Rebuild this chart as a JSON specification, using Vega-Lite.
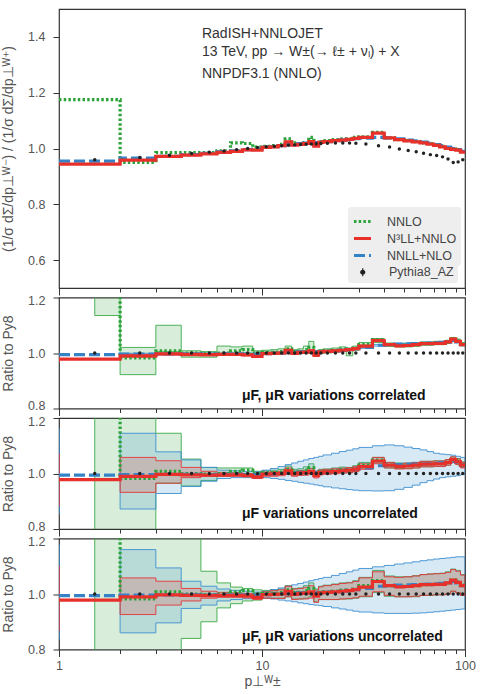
{
"$schema":"https://vega.github.io/schema/vega-lite/v6.json",
"background":"white",
"padding":{"left":1,"top":8,"right":0,"bottom":0},
"spacing":9.5,
"bounds":"flush",
"resolve":{"scale":{"color":"independent","strokeDash":"independent","fill":"independent"},"legend":{"color":"independent","strokeDash":"independent","fill":"independent"}},
"config":{
 "font":"Liberation Sans",
 "view":{"stroke":"#333333","strokeWidth":1.2},
 "axis":{"domain":false,"grid":false,"tickColor":"#333333","tickWidth":1,"labelColor":"#555555","labelFont":"Liberation Sans","labelFontSize":12.5,"titleColor":"#555555","titleFont":"Liberation Sans","titleFontSize":14,"titleFontWeight":"normal","labelFlush":false,"labelOverlap":false}
},
"datasets":{
"main":[
{"x":1,"nnlo":1.175,"n3ll":0.944,"nnll":0.955,"xc":1.5,"py":0.96,"rn":1.22,"rr":0.978,"rb":0.994},
{"x":2,"nnlo":0.95,"n3ll":0.958,"nnll":0.966,"xc":2.5,"py":0.968,"rn":0.982,"rr":0.99,"rb":0.996},
{"x":3,"nnlo":0.985,"n3ll":0.972,"nnll":0.972,"xc":3.5,"py":0.976,"rn":1.008,"rr":0.997,"rb":0.997},
{"x":4,"nnlo":0.985,"n3ll":0.976,"nnll":0.978,"xc":4.5,"py":0.982,"rn":1.0,"rr":0.995,"rb":0.997},
{"x":5,"nnlo":0.985,"n3ll":0.981,"nnll":0.983,"xc":5.5,"py":0.987,"rn":0.998,"rr":0.994,"rb":0.996},
{"x":6,"nnlo":0.992,"n3ll":0.986,"nnll":0.988,"xc":6.5,"py":0.991,"rn":1.0,"rr":0.995,"rb":0.997},
{"x":7,"nnlo":1.02,"n3ll":0.99,"nnll":0.992,"xc":7.5,"py":0.996,"rn":1.008,"rr":0.995,"rb":0.997},
{"x":8,"nnlo":1.018,"n3ll":0.995,"nnll":0.996,"xc":8.5,"py":1.0,"rn":1.012,"rr":0.993,"rb":0.996},
{"x":9,"nnlo":1.005,"n3ll":0.994,"nnll":0.998,"xc":9.5,"py":1.004,"rn":1.0,"rr":0.988,"rb":0.995},
{"x":10,"nnlo":1.008,"n3ll":1.004,"nnll":1.004,"xc":10.5,"py":1.006,"rn":1.002,"rr":0.998,"rb":0.998},
{"x":11,"nnlo":1.01,"n3ll":1.006,"nnll":1.007,"xc":11.5,"py":1.008,"rn":1.003,"rr":0.999,"rb":0.999},
{"x":12,"nnlo":1.015,"n3ll":1.01,"nnll":1.01,"xc":12.5,"py":1.01,"rn":1.005,"rr":1.0,"rb":1.0},
{"x":13,"nnlo":1.035,"n3ll":1.024,"nnll":1.014,"xc":13.5,"py":1.012,"rn":1.015,"rr":1.01,"rb":1.002},
{"x":14,"nnlo":1.02,"n3ll":1.012,"nnll":1.016,"xc":14.5,"py":1.013,"rn":1.005,"rr":0.999,"rb":1.003},
{"x":15,"nnlo":1.018,"n3ll":1.015,"nnll":1.018,"xc":15.5,"py":1.014,"rn":1.006,"rr":1.002,"rb":1.004},
{"x":16,"nnlo":1.02,"n3ll":1.018,"nnll":1.019,"xc":16.5,"py":1.015,"rn":1.012,"rr":1.003,"rb":1.004},
{"x":17,"nnlo":1.04,"n3ll":1.025,"nnll":1.02,"xc":17.5,"py":1.016,"rn":1.02,"rr":1.008,"rb":1.004},
{"x":18,"nnlo":1.015,"n3ll":1.008,"nnll":1.021,"xc":18.5,"py":1.017,"rn":0.998,"rr":0.992,"rb":1.004},
{"x":19,"nnlo":1.025,"n3ll":1.022,"nnll":1.022,"xc":19.5,"py":1.018,"rn":1.006,"rr":1.004,"rb":1.004},
{"x":20,"nnlo":1.028,"n3ll":1.025,"nnll":1.025,"xc":21,"py":1.019,"rn":1.008,"rr":1.006,"rb":1.006},
{"x":22,"nnlo":1.032,"n3ll":1.028,"nnll":1.028,"xc":23,"py":1.02,"rn":1.01,"rr":1.008,"rb":1.008},
{"x":24,"nnlo":1.035,"n3ll":1.03,"nnll":1.03,"xc":25,"py":1.02,"rn":1.014,"rr":1.01,"rb":1.01},
{"x":26,"nnlo":1.035,"n3ll":1.033,"nnll":1.033,"xc":27,"py":1.02,"rn":1.012,"rr":1.012,"rb":1.013},
{"x":28,"nnlo":1.04,"n3ll":1.036,"nnll":1.035,"xc":29,"py":1.019,"rn":1.018,"rr":1.016,"rb":1.016},
{"x":30,"nnlo":1.042,"n3ll":1.04,"nnll":1.037,"xc":32.5,"py":1.016,"rn":1.03,"rr":1.025,"rb":1.02},
{"x":35,"nnlo":1.058,"n3ll":1.055,"nnll":1.04,"xc":37.5,"py":1.01,"rn":1.048,"rr":1.045,"rb":1.028},
{"x":40,"nnlo":1.038,"n3ll":1.038,"nnll":1.038,"xc":42.5,"py":1.005,"rn":1.03,"rr":1.03,"rb":1.03},
{"x":45,"nnlo":1.032,"n3ll":1.032,"nnll":1.035,"xc":47.5,"py":0.998,"rn":1.028,"rr":1.026,"rb":1.032},
{"x":50,"nnlo":1.028,"n3ll":1.027,"nnll":1.03,"xc":52.5,"py":0.993,"rn":1.028,"rr":1.027,"rb":1.033},
{"x":55,"nnlo":1.025,"n3ll":1.024,"nnll":1.027,"xc":57.5,"py":0.988,"rn":1.03,"rr":1.03,"rb":1.034},
{"x":60,"nnlo":1.02,"n3ll":1.02,"nnll":1.023,"xc":62.5,"py":0.983,"rn":1.034,"rr":1.034,"rb":1.035},
{"x":65,"nnlo":1.018,"n3ll":1.016,"nnll":1.019,"xc":67.5,"py":0.978,"rn":1.034,"rr":1.034,"rb":1.036},
{"x":70,"nnlo":1.012,"n3ll":1.011,"nnll":1.014,"xc":72.5,"py":0.975,"rn":1.036,"rr":1.035,"rb":1.037},
{"x":75,"nnlo":1.008,"n3ll":1.006,"nnll":1.01,"xc":77.5,"py":0.97,"rn":1.036,"rr":1.035,"rb":1.038},
{"x":80,"nnlo":1.002,"n3ll":1.0,"nnll":1.005,"xc":82.5,"py":0.962,"rn":1.04,"rr":1.04,"rb":1.04},
{"x":85,"nnlo":0.998,"n3ll":0.997,"nnll":1.0,"xc":87.5,"py":0.95,"rn":1.05,"rr":1.05,"rb":1.045},
{"x":90,"nnlo":0.995,"n3ll":0.994,"nnll":0.996,"xc":92.5,"py":0.952,"rn":1.044,"rr":1.042,"rb":1.04},
{"x":95,"nnlo":0.99,"n3ll":0.987,"nnll":0.99,"xc":97.5,"py":0.96,"rn":1.032,"rr":1.03,"rb":1.03},
{"x":100,"nnlo":0.99,"n3ll":0.987,"nnll":0.99,"rn":1.032,"rr":1.03,"rb":1.03}
],
"bands":[
{"x":1,"r2l":0.965,"r2h":0.986,"b2l":0.988,"b2h":0.998,"r3l":0.884,"r3h":1.07,"b3l":0.852,"b3h":1.162,"r4l":0.868,"r4h":1.1,"b4l":0.836,"b4h":1.178},
{"x":1.5,"g2l":1.135,"g2h":1.25,"g3l":0.78,"g3h":1.22,"g4l":0.78,"g4h":1.22},
{"x":2,"g2l":0.922,"g2h":1.02,"r2l":0.985,"r2h":0.995,"b2l":0.992,"b2h":0.999,"g3l":0.78,"g3h":1.22,"r3l":0.932,"r3h":1.058,"b3l":0.872,"b3h":1.145,"g4l":0.78,"g4h":1.22,"r4l":0.926,"r4h":1.058,"b4l":0.86,"b4h":1.16},
{"x":3,"g2l":1.005,"g2h":1.1,"r2l":0.993,"r2h":1.0,"b2l":0.994,"b2h":1.0,"g3l":0.965,"g3h":1.145,"r3l":0.965,"r3h":1.046,"b3l":0.928,"b3h":1.078,"g4l":0.78,"g4h":1.22,"r4l":0.96,"r4h":1.046,"b4l":0.896,"b4h":1.094},
{"x":4,"g2l":0.985,"g2h":1.008,"r2l":0.99,"r2h":0.998,"b2l":0.994,"b2h":0.999,"g3l":0.955,"g3h":1.052,"r3l":0.985,"r3h":1.022,"b3l":0.953,"b3h":1.049,"g4l":0.84,"g4h":1.22,"r4l":0.975,"r4h":1.02,"b4l":0.948,"b4h":1.046},
{"x":5,"g2l":0.985,"g2h":1.005,"r2l":0.99,"r2h":0.997,"b2l":0.993,"b2h":0.999,"g3l":0.975,"g3h":1.022,"r3l":0.99,"r3h":1.008,"b3l":0.972,"b3h":1.022,"g4l":0.9,"g4h":1.082,"r4l":0.985,"r4h":1.01,"b4l":0.96,"b4h":1.028},
{"x":6,"g2l":0.995,"g2h":1.025,"r2l":0.991,"r2h":0.998,"b2l":0.994,"b2h":1.0,"g3l":0.99,"g3h":1.02,"r3l":0.99,"r3h":1.004,"b3l":0.982,"b3h":1.012,"g4l":0.95,"g4h":1.04,"r4l":0.988,"r4h":1.006,"b4l":0.975,"b4h":1.018},
{"x":7,"g2l":0.997,"g2h":1.022,"r2l":0.991,"r2h":0.998,"b2l":0.994,"b2h":1.0,"g3l":0.995,"g3h":1.02,"r3l":0.99,"r3h":1.003,"b3l":0.985,"b3h":1.01,"g4l":0.965,"g4h":1.025,"r4l":0.988,"r4h":1.004,"b4l":0.98,"b4h":1.013},
{"x":8,"g2l":1.0,"g2h":1.025,"r2l":0.99,"r2h":0.996,"b2l":0.993,"b2h":0.999,"g3l":0.995,"g3h":1.02,"r3l":0.988,"r3h":1.0,"b3l":0.985,"b3h":1.007,"g4l":0.975,"g4h":1.02,"r4l":0.986,"r4h":1.002,"b4l":0.983,"b4h":1.01},
{"x":9,"g2l":0.99,"g2h":1.008,"r2l":0.984,"r2h":0.992,"b2l":0.992,"b2h":0.998,"g3l":0.99,"g3h":1.008,"r3l":0.982,"r3h":0.995,"b3l":0.984,"b3h":1.006,"g4l":0.978,"g4h":1.015,"r4l":0.98,"r4h":0.996,"b4l":0.985,"b4h":1.007},
{"x":10,"g2l":0.995,"g2h":1.01,"r2l":0.995,"r2h":1.002,"b2l":0.995,"b2h":1.001,"g3l":0.994,"g3h":1.01,"r3l":0.99,"r3h":1.005,"b3l":0.985,"b3h":1.012,"g4l":0.985,"g4h":1.013,"r4l":0.985,"r4h":1.008,"b4l":0.985,"b4h":1.01},
{"x":11,"g2l":0.996,"g2h":1.012,"r2l":0.996,"r2h":1.002,"b2l":0.996,"b2h":1.002,"g3l":0.995,"g3h":1.012,"r3l":0.99,"r3h":1.007,"b3l":0.982,"b3h":1.018,"g4l":0.985,"g4h":1.015,"r4l":0.984,"r4h":1.012,"b4l":0.982,"b4h":1.016},
{"x":12,"g2l":0.998,"g2h":1.015,"r2l":0.997,"r2h":1.004,"b2l":0.997,"b2h":1.003,"g3l":0.997,"g3h":1.015,"r3l":0.992,"r3h":1.008,"b3l":0.979,"b3h":1.025,"g4l":0.985,"g4h":1.018,"r4l":0.984,"r4h":1.015,"b4l":0.978,"b4h":1.022},
{"x":13,"g2l":1.002,"g2h":1.025,"r2l":1.006,"r2h":1.014,"b2l":0.999,"b2h":1.005,"g3l":1.003,"g3h":1.027,"r3l":1.0,"r3h":1.02,"b3l":0.975,"b3h":1.032,"g4l":0.99,"g4h":1.03,"r4l":0.99,"r4h":1.028,"b4l":0.975,"b4h":1.028},
{"x":14,"g2l":0.995,"g2h":1.012,"r2l":0.996,"r2h":1.003,"b2l":1.0,"b2h":1.006,"g3l":0.995,"g3h":1.015,"r3l":0.99,"r3h":1.008,"b3l":0.972,"b3h":1.038,"g4l":0.982,"g4h":1.02,"r4l":0.98,"r4h":1.018,"b4l":0.972,"b4h":1.033},
{"x":15,"g2l":0.998,"g2h":1.015,"r2l":0.999,"r2h":1.005,"b2l":1.001,"b2h":1.007,"g3l":0.997,"g3h":1.017,"r3l":0.993,"r3h":1.011,"b3l":0.968,"b3h":1.044,"g4l":0.982,"g4h":1.022,"r4l":0.982,"r4h":1.02,"b4l":0.968,"b4h":1.038},
{"x":16,"g2l":1.002,"g2h":1.025,"r2l":1.0,"r2h":1.006,"b2l":1.001,"b2h":1.007,"g3l":1.002,"g3h":1.024,"r3l":0.994,"r3h":1.012,"b3l":0.965,"b3h":1.049,"g4l":0.985,"g4h":1.03,"r4l":0.982,"r4h":1.024,"b4l":0.965,"b4h":1.043},
{"x":17,"g2l":1.005,"g2h":1.042,"r2l":1.004,"r2h":1.012,"b2l":1.001,"b2h":1.007,"g3l":1.008,"g3h":1.035,"r3l":0.998,"r3h":1.018,"b3l":0.962,"b3h":1.054,"g4l":0.99,"g4h":1.04,"r4l":0.985,"r4h":1.03,"b4l":0.962,"b4h":1.048},
{"x":18,"g2l":0.988,"g2h":1.008,"r2l":0.988,"r2h":0.996,"b2l":1.001,"b2h":1.007,"g3l":0.99,"g3h":1.008,"r3l":0.984,"r3h":1.0,"b3l":0.959,"b3h":1.058,"g4l":0.972,"g4h":1.018,"r4l":0.97,"r4h":1.014,"b4l":0.96,"b4h":1.052},
{"x":19,"g2l":0.998,"g2h":1.012,"r2l":1.001,"r2h":1.007,"b2l":1.001,"b2h":1.007,"g3l":0.997,"g3h":1.015,"r3l":0.995,"r3h":1.013,"b3l":0.956,"b3h":1.062,"g4l":0.98,"g4h":1.028,"r4l":0.98,"r4h":1.026,"b4l":0.958,"b4h":1.056},
{"x":20,"g2l":1.0,"g2h":1.015,"r2l":1.003,"r2h":1.009,"b2l":1.003,"b2h":1.009,"g3l":1.0,"g3h":1.016,"r3l":0.997,"r3h":1.015,"b3l":0.952,"b3h":1.067,"g4l":0.98,"g4h":1.032,"r4l":0.98,"r4h":1.03,"b4l":0.955,"b4h":1.06},
{"x":22,"g2l":1.003,"g2h":1.018,"r2l":1.005,"r2h":1.011,"b2l":1.005,"b2h":1.011,"g3l":1.002,"g3h":1.02,"r3l":0.999,"r3h":1.017,"b3l":0.948,"b3h":1.073,"g4l":0.98,"g4h":1.036,"r4l":0.98,"r4h":1.034,"b4l":0.95,"b4h":1.067},
{"x":24,"g2l":1.006,"g2h":1.022,"r2l":1.007,"r2h":1.013,"b2l":1.007,"b2h":1.013,"g3l":1.005,"g3h":1.023,"r3l":1.001,"r3h":1.019,"b3l":0.945,"b3h":1.079,"g4l":0.982,"g4h":1.04,"r4l":0.982,"r4h":1.038,"b4l":0.946,"b4h":1.074},
{"x":26,"g2l":0.99,"g2h":1.018,"r2l":1.009,"r2h":1.015,"b2l":1.01,"b2h":1.016,"g3l":1.003,"g3h":1.022,"r3l":1.003,"r3h":1.021,"b3l":0.942,"b3h":1.084,"g4l":0.982,"g4h":1.042,"r4l":0.984,"r4h":1.04,"b4l":0.942,"b4h":1.08},
{"x":28,"g2l":1.01,"g2h":1.025,"r2l":1.013,"r2h":1.019,"b2l":1.013,"b2h":1.019,"g3l":1.008,"g3h":1.028,"r3l":1.007,"r3h":1.025,"b3l":0.94,"b3h":1.089,"g4l":0.985,"g4h":1.048,"r4l":0.986,"r4h":1.045,"b4l":0.938,"b4h":1.086},
{"x":30,"g2l":1.022,"g2h":1.038,"r2l":1.022,"r2h":1.028,"b2l":1.017,"b2h":1.023,"g3l":1.02,"g3h":1.04,"r3l":1.015,"r3h":1.035,"b3l":0.938,"b3h":1.094,"g4l":0.99,"g4h":1.06,"r4l":0.992,"r4h":1.058,"b4l":0.935,"b4h":1.092},
{"x":35,"g2l":1.038,"g2h":1.052,"r2l":1.041,"r2h":1.049,"b2l":1.025,"b2h":1.031,"g3l":1.038,"g3h":1.058,"r3l":1.035,"r3h":1.058,"b3l":0.937,"b3h":1.1,"g4l":1.005,"g4h":1.085,"r4l":1.008,"r4h":1.08,"b4l":0.932,"b4h":1.098},
{"x":40,"g2l":1.024,"g2h":1.036,"r2l":1.027,"r2h":1.033,"b2l":1.027,"b2h":1.033,"g3l":1.02,"g3h":1.04,"r3l":1.02,"r3h":1.04,"b3l":0.938,"b3h":1.103,"g4l":0.992,"g4h":1.065,"r4l":0.995,"r4h":1.062,"b4l":0.93,"b4h":1.103},
{"x":45,"g2l":1.022,"g2h":1.034,"r2l":1.023,"r2h":1.029,"b2l":1.029,"b2h":1.035,"g3l":1.018,"g3h":1.038,"r3l":1.016,"r3h":1.036,"b3l":0.943,"b3h":1.1,"g4l":0.99,"g4h":1.062,"r4l":0.99,"r4h":1.06,"b4l":0.93,"b4h":1.108},
{"x":50,"g2l":1.022,"g2h":1.034,"r2l":1.024,"r2h":1.03,"b2l":1.03,"b2h":1.036,"g3l":1.018,"g3h":1.038,"r3l":1.017,"r3h":1.037,"b3l":0.95,"b3h":1.095,"g4l":0.99,"g4h":1.062,"r4l":0.99,"r4h":1.062,"b4l":0.93,"b4h":1.112},
{"x":55,"g2l":1.024,"g2h":1.036,"r2l":1.027,"r2h":1.033,"b2l":1.031,"b2h":1.037,"g3l":1.02,"g3h":1.04,"r3l":1.02,"r3h":1.04,"b3l":0.958,"b3h":1.09,"g4l":0.99,"g4h":1.066,"r4l":0.992,"r4h":1.065,"b4l":0.931,"b4h":1.116},
{"x":60,"g2l":1.028,"g2h":1.04,"r2l":1.031,"r2h":1.037,"b2l":1.032,"b2h":1.038,"g3l":1.024,"g3h":1.044,"r3l":1.024,"r3h":1.044,"b3l":0.967,"b3h":1.085,"g4l":0.995,"g4h":1.07,"r4l":0.995,"r4h":1.07,"b4l":0.932,"b4h":1.12},
{"x":65,"g2l":1.028,"g2h":1.04,"r2l":1.031,"r2h":1.037,"b2l":1.033,"b2h":1.039,"g3l":1.024,"g3h":1.044,"r3l":1.024,"r3h":1.044,"b3l":0.974,"b3h":1.079,"g4l":0.995,"g4h":1.072,"r4l":0.996,"r4h":1.072,"b4l":0.934,"b4h":1.123},
{"x":70,"g2l":1.03,"g2h":1.042,"r2l":1.032,"r2h":1.038,"b2l":1.034,"b2h":1.04,"g3l":1.026,"g3h":1.046,"r3l":1.025,"r3h":1.045,"b3l":0.98,"b3h":1.073,"g4l":0.997,"g4h":1.074,"r4l":0.997,"r4h":1.073,"b4l":0.936,"b4h":1.126},
{"x":75,"g2l":1.03,"g2h":1.042,"r2l":1.032,"r2h":1.038,"b2l":1.035,"b2h":1.041,"g3l":1.026,"g3h":1.046,"r3l":1.025,"r3h":1.045,"b3l":0.985,"b3h":1.07,"g4l":0.997,"g4h":1.075,"r4l":0.997,"r4h":1.074,"b4l":0.938,"b4h":1.128},
{"x":80,"g2l":1.034,"g2h":1.046,"r2l":1.037,"r2h":1.043,"b2l":1.037,"b2h":1.043,"g3l":1.03,"g3h":1.05,"r3l":1.03,"r3h":1.05,"b3l":0.988,"b3h":1.068,"g4l":1.0,"g4h":1.08,"r4l":1.0,"r4h":1.078,"b4l":0.94,"b4h":1.13},
{"x":85,"g2l":1.044,"g2h":1.056,"r2l":1.047,"r2h":1.053,"b2l":1.042,"b2h":1.048,"g3l":1.04,"g3h":1.06,"r3l":1.04,"r3h":1.06,"b3l":0.99,"b3h":1.066,"g4l":1.01,"g4h":1.09,"r4l":1.01,"r4h":1.088,"b4l":0.942,"b4h":1.132},
{"x":90,"g2l":1.038,"g2h":1.05,"r2l":1.039,"r2h":1.045,"b2l":1.037,"b2h":1.043,"g3l":1.034,"g3h":1.054,"r3l":1.032,"r3h":1.052,"b3l":0.992,"b3h":1.062,"g4l":1.005,"g4h":1.085,"r4l":1.004,"r4h":1.082,"b4l":0.944,"b4h":1.134},
{"x":95,"g2l":1.026,"g2h":1.038,"r2l":1.027,"r2h":1.033,"b2l":1.027,"b2h":1.033,"g3l":1.022,"g3h":1.042,"r3l":1.02,"r3h":1.04,"b3l":0.996,"b3h":1.058,"g4l":0.995,"g4h":1.07,"r4l":0.995,"r4h":1.068,"b4l":0.946,"b4h":1.134},
{"x":100,"g2l":1.026,"g2h":1.038,"r2l":1.027,"r2h":1.033,"b2l":1.027,"b2h":1.033,"g3l":1.022,"g3h":1.042,"r3l":1.02,"r3h":1.04,"b3l":0.996,"b3h":1.058,"g4l":0.995,"g4h":1.07,"r4l":0.995,"r4h":1.068,"b4l":0.946,"b4h":1.134}
]
},
"vconcat":[
{
 "width":406,"height":279,
 "layer":[
  {"data":{"name":"main"},
   "transform":[{"fold":["nnlo","nnll","n3ll"],"as":["series","v"]}],
   "mark":{"type":"line","interpolate":"step-after","clip":true,"strokeWidth":3.2,"strokeCap":"butt"},
   "encoding":{
    "x":{"field":"x","type":"quantitative","scale":{"type":"log","domain":[1,100],"nice":false},"axis":{"values":[1,2,3,4,5,6,7,8,9,10,20,30,40,50,60,70,80,90,100],"labels":false,"title":null,"tickSize":{"condition":{"test":"datum.value==1||datum.value==10||datum.value==100","value":7},"value":4}}},
    "y":{"field":"v","type":"quantitative","scale":{"domain":[0.5,1.5],"nice":false,"zero":false},"axis":{"values":[0.6,0.8,1.0,1.2,1.4],"format":".1f","title":"(1/σ dΣ/dp⊥ᵂ⁻) / (1/σ dΣ/dp⊥ᵂ⁺)","tickSize":6,"labelPadding":8,"titlePadding":12}},
    "color":{"field":"series","type":"nominal","scale":{"domain":["nnlo","n3ll","nnll"],"range":["#2ca33a","#e8302b","#3583c6"]},
     "legend":{"orient":"none","legendX":289,"legendY":198,"zindex":2,"title":null,
      "labelExpr":"datum.label=='nnlo'?'NNLO':datum.label=='n3ll'?'N³LL+NNLO':'NNLL+NLO'",
      "symbolType":"stroke","symbolSize":290,"symbolStrokeWidth":3,"labelFontSize":12.5,"labelColor":"#444444","labelOffset":14,"rowPadding":0,"padding":4,"fillColor":"#eeeeee","cornerRadius":3}},
    "strokeDash":{"field":"series","type":"nominal","scale":{"domain":["nnlo","n3ll","nnll"],"range":[[2.5,2.2],[1,0],[11,4]]}}
   }},
  {"data":{"name":"main"},
   "mark":{"type":"circle","size":12,"opacity":1,"clip":true},
   "encoding":{
    "x":{"field":"xc","type":"quantitative","scale":{"type":"log","domain":[1,100],"nice":false},"axis":{"values":[1,2,3,4,5,6,7,8,9,10,20,30,40,50,60,70,80,90,100],"labels":false,"title":null,"tickSize":{"condition":{"test":"datum.value==1||datum.value==10||datum.value==100","value":7},"value":4}}},
    "y":{"field":"py","type":"quantitative","scale":{"domain":[0.5,1.5],"nice":false,"zero":false},"axis":{"values":[0.6,0.8,1.0,1.2,1.4],"format":".1f","title":"(1/σ dΣ/dp⊥ᵂ⁻) / (1/σ dΣ/dp⊥ᵂ⁺)","tickSize":6,"labelPadding":8,"titlePadding":12}},
    "fill":{"datum":"Pythia8_AZ","type":"nominal","scale":{"range":["#222222"]},
     "legend":{"orient":"none","legendX":289,"legendY":253,"zindex":1,"title":null,
      "labelExpr":"'Pythia8_AZ\u00a0'",
      "symbolType":"M0,-1V1M-0.5,0A0.5,0.5,0,1,0,0.5,0A0.5,0.5,0,1,0,-0.5,0","symbolSize":64,"symbolOffset":4.5,"symbolStrokeColor":"#222222","symbolStrokeWidth":1.2,"symbolFillColor":"#222222","labelFontSize":12.5,"labelColor":"#444444","labelOffset":20,"padding":4,"fillColor":"#eeeeee","cornerRadius":3}}
   }},
  {"data":{"values":[{"t":"RadISH+NNLOJET"}]},
   "mark":{"type":"text","align":"left","baseline":"alphabetic","fontSize":14,"color":"#333333"},
   "encoding":{"x":{"datum":5.06,"type":"quantitative"},"y":{"datum":1.396,"type":"quantitative"},"text":{"field":"t"}}},
  {"data":{"values":[{"t":"13 TeV, pp → W±(→ ℓ± + νₗ) + X"}]},
   "mark":{"type":"text","align":"left","baseline":"alphabetic","fontSize":14,"color":"#333333"},
   "encoding":{"x":{"datum":5.06,"type":"quantitative"},"y":{"datum":1.332,"type":"quantitative"},"text":{"field":"t"}}},
  {"data":{"values":[{"t":"NNPDF3.1 (NNLO)"}]},
   "mark":{"type":"text","align":"left","baseline":"alphabetic","fontSize":14,"color":"#333333"},
   "encoding":{"x":{"datum":5.06,"type":"quantitative"},"y":{"datum":1.253,"type":"quantitative"},"text":{"field":"t"}}}
 ]
},
{
 "width":406,"height":111,
 "layer":[
  {"data":{"name":"bands"},"mark":{"type":"area","interpolate":"step-after","clip":true,"color":"#3aaa48","fillOpacity":0.2,"stroke":"#3aaa48","strokeWidth":1,"strokeOpacity":0.9},
   "encoding":{"x":{"field":"x","type":"quantitative","scale":{"type":"log","domain":[1,100],"nice":false},"axis":{"values":[1,2,3,4,5,6,7,8,9,10,20,30,40,50,60,70,80,90,100],"labels":false,"title":null,"tickSize":{"condition":{"test":"datum.value==1||datum.value==10||datum.value==100","value":7},"value":4}}},
    "y":{"field":"g2l","type":"quantitative","scale":{"domain":[0.8,1.2],"nice":false,"zero":false},"axis":{"values":[0.8,0.9,1.0,1.1,1.2],"format":".1f","title":"Ratio to Py8","tickSize":6,"labelPadding":8,"titlePadding":12,"labelOffset":{"condition":[{"test":"datum.value<0.85","value":-3},{"test":"datum.value>1.15","value":3}],"value":0}}},
    "y2":{"field":"g2h"}}},
  {"data":{"name":"bands"},"mark":{"type":"area","interpolate":"step-after","clip":true,"color":"#3d8fd1","fillOpacity":0.2,"stroke":"#3d8fd1","strokeWidth":1,"strokeOpacity":0.9},
   "encoding":{"x":{"field":"x","type":"quantitative","scale":{"type":"log","domain":[1,100],"nice":false},"axis":{"values":[1,2,3,4,5,6,7,8,9,10,20,30,40,50,60,70,80,90,100],"labels":false,"title":null,"tickSize":{"condition":{"test":"datum.value==1||datum.value==10||datum.value==100","value":7},"value":4}}},
    "y":{"field":"b2l","type":"quantitative","scale":{"domain":[0.8,1.2],"nice":false,"zero":false},"axis":{"values":[0.8,0.9,1.0,1.1,1.2],"format":".1f","title":"Ratio to Py8","tickSize":6,"labelPadding":8,"titlePadding":12,"labelOffset":{"condition":[{"test":"datum.value<0.85","value":-3},{"test":"datum.value>1.15","value":3}],"value":0}}},
    "y2":{"field":"b2h"}}},
  {"data":{"name":"bands"},"mark":{"type":"area","interpolate":"step-after","clip":true,"color":"#e63535","fillOpacity":0.2,"stroke":"#e63535","strokeWidth":1,"strokeOpacity":0.9},
   "encoding":{"x":{"field":"x","type":"quantitative","scale":{"type":"log","domain":[1,100],"nice":false},"axis":{"values":[1,2,3,4,5,6,7,8,9,10,20,30,40,50,60,70,80,90,100],"labels":false,"title":null,"tickSize":{"condition":{"test":"datum.value==1||datum.value==10||datum.value==100","value":7},"value":4}}},
    "y":{"field":"r2l","type":"quantitative","scale":{"domain":[0.8,1.2],"nice":false,"zero":false},"axis":{"values":[0.8,0.9,1.0,1.1,1.2],"format":".1f","title":"Ratio to Py8","tickSize":6,"labelPadding":8,"titlePadding":12,"labelOffset":{"condition":[{"test":"datum.value<0.85","value":-3},{"test":"datum.value>1.15","value":3}],"value":0}}},
    "y2":{"field":"r2h"}}},
  {"data":{"name":"main"},"transform":[{"fold":["rn","rb","rr"],"as":["series","v"]}],
   "mark":{"type":"line","interpolate":"step-after","clip":true,"strokeWidth":3.2,"strokeCap":"butt"},
   "encoding":{"x":{"field":"x","type":"quantitative","scale":{"type":"log","domain":[1,100],"nice":false},"axis":{"values":[1,2,3,4,5,6,7,8,9,10,20,30,40,50,60,70,80,90,100],"labels":false,"title":null,"tickSize":{"condition":{"test":"datum.value==1||datum.value==10||datum.value==100","value":7},"value":4}}},
    "y":{"field":"v","type":"quantitative","scale":{"domain":[0.8,1.2],"nice":false,"zero":false},"axis":{"values":[0.8,0.9,1.0,1.1,1.2],"format":".1f","title":"Ratio to Py8","tickSize":6,"labelPadding":8,"titlePadding":12,"labelOffset":{"condition":[{"test":"datum.value<0.85","value":-3},{"test":"datum.value>1.15","value":3}],"value":0}}},
    "color":{"field":"series","type":"nominal","scale":{"domain":["rn","rr","rb"],"range":["#2ca33a","#e8302b","#3583c6"]},"legend":null},
    "strokeDash":{"field":"series","type":"nominal","scale":{"domain":["rn","rr","rb"],"range":[[2.5,2.2],[1,0],[11,4]]},"legend":null}}},
  {"data":{"name":"main"},"mark":{"type":"circle","size":12,"color":"#222222","opacity":1,"clip":true},
   "encoding":{"x":{"field":"xc","type":"quantitative","scale":{"type":"log","domain":[1,100],"nice":false},"axis":{"values":[1,2,3,4,5,6,7,8,9,10,20,30,40,50,60,70,80,90,100],"labels":false,"title":null,"tickSize":{"condition":{"test":"datum.value==1||datum.value==10||datum.value==100","value":7},"value":4}}},
    "y":{"datum":1,"type":"quantitative","scale":{"domain":[0.8,1.2],"nice":false,"zero":false},"axis":{"values":[0.8,0.9,1.0,1.1,1.2],"format":".1f","title":"Ratio to Py8","tickSize":6,"labelPadding":8,"titlePadding":12,"labelOffset":{"condition":[{"test":"datum.value<0.85","value":-3},{"test":"datum.value>1.15","value":3}],"value":0}}}}},
  {"data":{"values":[{"t":"μF, μR variations correlated"}]},
   "mark":{"type":"text","align":"left","baseline":"alphabetic","fontSize":14,"fontWeight":"bold","color":"#111111"},
   "encoding":{"x":{"datum":7.97,"type":"quantitative"},"y":{"datum":0.83,"type":"quantitative"},"text":{"field":"t"}}}
 ]
},
{
 "width":406,"height":111,
 "layer":[
  {"data":{"name":"bands"},"mark":{"type":"area","interpolate":"step-after","clip":true,"color":"#3aaa48","fillOpacity":0.2,"stroke":"#3aaa48","strokeWidth":1,"strokeOpacity":0.9},
   "encoding":{"x":{"field":"x","type":"quantitative","scale":{"type":"log","domain":[1,100],"nice":false},"axis":{"values":[1,2,3,4,5,6,7,8,9,10,20,30,40,50,60,70,80,90,100],"labels":false,"title":null,"tickSize":{"condition":{"test":"datum.value==1||datum.value==10||datum.value==100","value":7},"value":4}}},
    "y":{"field":"g3l","type":"quantitative","scale":{"domain":[0.8,1.2],"nice":false,"zero":false},"axis":{"values":[0.8,0.9,1.0,1.1,1.2],"format":".1f","title":"Ratio to Py8","tickSize":6,"labelPadding":8,"titlePadding":12,"labelOffset":{"condition":[{"test":"datum.value<0.85","value":-3},{"test":"datum.value>1.15","value":3}],"value":0}}},
    "y2":{"field":"g3h"}}},
  {"data":{"name":"bands"},"mark":{"type":"area","interpolate":"step-after","clip":true,"color":"#3d8fd1","fillOpacity":0.2,"stroke":"#3d8fd1","strokeWidth":1,"strokeOpacity":0.9},
   "encoding":{"x":{"field":"x","type":"quantitative","scale":{"type":"log","domain":[1,100],"nice":false},"axis":{"values":[1,2,3,4,5,6,7,8,9,10,20,30,40,50,60,70,80,90,100],"labels":false,"title":null,"tickSize":{"condition":{"test":"datum.value==1||datum.value==10||datum.value==100","value":7},"value":4}}},
    "y":{"field":"b3l","type":"quantitative","scale":{"domain":[0.8,1.2],"nice":false,"zero":false},"axis":{"values":[0.8,0.9,1.0,1.1,1.2],"format":".1f","title":"Ratio to Py8","tickSize":6,"labelPadding":8,"titlePadding":12,"labelOffset":{"condition":[{"test":"datum.value<0.85","value":-3},{"test":"datum.value>1.15","value":3}],"value":0}}},
    "y2":{"field":"b3h"}}},
  {"data":{"name":"bands"},"mark":{"type":"area","interpolate":"step-after","clip":true,"color":"#e63535","fillOpacity":0.2,"stroke":"#e63535","strokeWidth":1,"strokeOpacity":0.9},
   "encoding":{"x":{"field":"x","type":"quantitative","scale":{"type":"log","domain":[1,100],"nice":false},"axis":{"values":[1,2,3,4,5,6,7,8,9,10,20,30,40,50,60,70,80,90,100],"labels":false,"title":null,"tickSize":{"condition":{"test":"datum.value==1||datum.value==10||datum.value==100","value":7},"value":4}}},
    "y":{"field":"r3l","type":"quantitative","scale":{"domain":[0.8,1.2],"nice":false,"zero":false},"axis":{"values":[0.8,0.9,1.0,1.1,1.2],"format":".1f","title":"Ratio to Py8","tickSize":6,"labelPadding":8,"titlePadding":12,"labelOffset":{"condition":[{"test":"datum.value<0.85","value":-3},{"test":"datum.value>1.15","value":3}],"value":0}}},
    "y2":{"field":"r3h"}}},
  {"data":{"name":"main"},"transform":[{"fold":["rn","rb","rr"],"as":["series","v"]}],
   "mark":{"type":"line","interpolate":"step-after","clip":true,"strokeWidth":3.2,"strokeCap":"butt"},
   "encoding":{"x":{"field":"x","type":"quantitative","scale":{"type":"log","domain":[1,100],"nice":false},"axis":{"values":[1,2,3,4,5,6,7,8,9,10,20,30,40,50,60,70,80,90,100],"labels":false,"title":null,"tickSize":{"condition":{"test":"datum.value==1||datum.value==10||datum.value==100","value":7},"value":4}}},
    "y":{"field":"v","type":"quantitative","scale":{"domain":[0.8,1.2],"nice":false,"zero":false},"axis":{"values":[0.8,0.9,1.0,1.1,1.2],"format":".1f","title":"Ratio to Py8","tickSize":6,"labelPadding":8,"titlePadding":12,"labelOffset":{"condition":[{"test":"datum.value<0.85","value":-3},{"test":"datum.value>1.15","value":3}],"value":0}}},
    "color":{"field":"series","type":"nominal","scale":{"domain":["rn","rr","rb"],"range":["#2ca33a","#e8302b","#3583c6"]},"legend":null},
    "strokeDash":{"field":"series","type":"nominal","scale":{"domain":["rn","rr","rb"],"range":[[2.5,2.2],[1,0],[11,4]]},"legend":null}}},
  {"data":{"name":"main"},"mark":{"type":"circle","size":12,"color":"#222222","opacity":1,"clip":true},
   "encoding":{"x":{"field":"xc","type":"quantitative","scale":{"type":"log","domain":[1,100],"nice":false},"axis":{"values":[1,2,3,4,5,6,7,8,9,10,20,30,40,50,60,70,80,90,100],"labels":false,"title":null,"tickSize":{"condition":{"test":"datum.value==1||datum.value==10||datum.value==100","value":7},"value":4}}},
    "y":{"datum":1,"type":"quantitative","scale":{"domain":[0.8,1.2],"nice":false,"zero":false},"axis":{"values":[0.8,0.9,1.0,1.1,1.2],"format":".1f","title":"Ratio to Py8","tickSize":6,"labelPadding":8,"titlePadding":12,"labelOffset":{"condition":[{"test":"datum.value<0.85","value":-3},{"test":"datum.value>1.15","value":3}],"value":0}}}}},
  {"data":{"values":[{"t":"μF variations uncorrelated"}]},
   "mark":{"type":"text","align":"left","baseline":"alphabetic","fontSize":14,"fontWeight":"bold","color":"#111111"},
   "encoding":{"x":{"datum":7.97,"type":"quantitative"},"y":{"datum":0.838,"type":"quantitative"},"text":{"field":"t"}}}
 ]
},
{
 "width":406,"height":111,
 "layer":[
  {"data":{"name":"bands"},"mark":{"type":"area","interpolate":"step-after","clip":true,"color":"#3aaa48","fillOpacity":0.2,"stroke":"#3aaa48","strokeWidth":1,"strokeOpacity":0.9},
   "encoding":{"x":{"field":"x","type":"quantitative","scale":{"type":"log","domain":[1,100],"nice":false},"axis":{"values":[1,2,3,4,5,6,7,8,9,10,20,30,40,50,60,70,80,90,100],"title":"p⊥ᵂ±","format":"d","labelExpr":"datum.value==1||datum.value==10||datum.value==100?datum.label:''","labelPadding":3,"titlePadding":2,"tickSize":{"condition":{"test":"datum.value==1||datum.value==10||datum.value==100","value":7},"value":4}}},
    "y":{"field":"g4l","type":"quantitative","scale":{"domain":[0.8,1.2],"nice":false,"zero":false},"axis":{"values":[0.8,0.9,1.0,1.1,1.2],"format":".1f","title":"Ratio to Py8","tickSize":6,"labelPadding":8,"titlePadding":12,"labelOffset":{"condition":[{"test":"datum.value<0.85","value":0},{"test":"datum.value>1.15","value":3}],"value":0}}},
    "y2":{"field":"g4h"}}},
  {"data":{"name":"bands"},"mark":{"type":"area","interpolate":"step-after","clip":true,"color":"#3d8fd1","fillOpacity":0.2,"stroke":"#3d8fd1","strokeWidth":1,"strokeOpacity":0.9},
   "encoding":{"x":{"field":"x","type":"quantitative","scale":{"type":"log","domain":[1,100],"nice":false},"axis":{"values":[1,2,3,4,5,6,7,8,9,10,20,30,40,50,60,70,80,90,100],"title":"p⊥ᵂ±","format":"d","labelExpr":"datum.value==1||datum.value==10||datum.value==100?datum.label:''","labelPadding":3,"titlePadding":2,"tickSize":{"condition":{"test":"datum.value==1||datum.value==10||datum.value==100","value":7},"value":4}}},
    "y":{"field":"b4l","type":"quantitative","scale":{"domain":[0.8,1.2],"nice":false,"zero":false},"axis":{"values":[0.8,0.9,1.0,1.1,1.2],"format":".1f","title":"Ratio to Py8","tickSize":6,"labelPadding":8,"titlePadding":12,"labelOffset":{"condition":[{"test":"datum.value<0.85","value":0},{"test":"datum.value>1.15","value":3}],"value":0}}},
    "y2":{"field":"b4h"}}},
  {"data":{"name":"bands"},"mark":{"type":"area","interpolate":"step-after","clip":true,"color":"#e63535","fillOpacity":0.2,"stroke":"#e63535","strokeWidth":1,"strokeOpacity":0.9},
   "encoding":{"x":{"field":"x","type":"quantitative","scale":{"type":"log","domain":[1,100],"nice":false},"axis":{"values":[1,2,3,4,5,6,7,8,9,10,20,30,40,50,60,70,80,90,100],"title":"p⊥ᵂ±","format":"d","labelExpr":"datum.value==1||datum.value==10||datum.value==100?datum.label:''","labelPadding":3,"titlePadding":2,"tickSize":{"condition":{"test":"datum.value==1||datum.value==10||datum.value==100","value":7},"value":4}}},
    "y":{"field":"r4l","type":"quantitative","scale":{"domain":[0.8,1.2],"nice":false,"zero":false},"axis":{"values":[0.8,0.9,1.0,1.1,1.2],"format":".1f","title":"Ratio to Py8","tickSize":6,"labelPadding":8,"titlePadding":12,"labelOffset":{"condition":[{"test":"datum.value<0.85","value":0},{"test":"datum.value>1.15","value":3}],"value":0}}},
    "y2":{"field":"r4h"}}},
  {"data":{"name":"main"},"transform":[{"fold":["rn","rb","rr"],"as":["series","v"]}],
   "mark":{"type":"line","interpolate":"step-after","clip":true,"strokeWidth":3.2,"strokeCap":"butt"},
   "encoding":{"x":{"field":"x","type":"quantitative","scale":{"type":"log","domain":[1,100],"nice":false},"axis":{"values":[1,2,3,4,5,6,7,8,9,10,20,30,40,50,60,70,80,90,100],"title":"p⊥ᵂ±","format":"d","labelExpr":"datum.value==1||datum.value==10||datum.value==100?datum.label:''","labelPadding":3,"titlePadding":2,"tickSize":{"condition":{"test":"datum.value==1||datum.value==10||datum.value==100","value":7},"value":4}}},
    "y":{"field":"v","type":"quantitative","scale":{"domain":[0.8,1.2],"nice":false,"zero":false},"axis":{"values":[0.8,0.9,1.0,1.1,1.2],"format":".1f","title":"Ratio to Py8","tickSize":6,"labelPadding":8,"titlePadding":12,"labelOffset":{"condition":[{"test":"datum.value<0.85","value":0},{"test":"datum.value>1.15","value":3}],"value":0}}},
    "color":{"field":"series","type":"nominal","scale":{"domain":["rn","rr","rb"],"range":["#2ca33a","#e8302b","#3583c6"]},"legend":null},
    "strokeDash":{"field":"series","type":"nominal","scale":{"domain":["rn","rr","rb"],"range":[[2.5,2.2],[1,0],[11,4]]},"legend":null}}},
  {"data":{"name":"main"},"mark":{"type":"circle","size":12,"color":"#222222","opacity":1,"clip":true},
   "encoding":{"x":{"field":"xc","type":"quantitative","scale":{"type":"log","domain":[1,100],"nice":false},"axis":{"values":[1,2,3,4,5,6,7,8,9,10,20,30,40,50,60,70,80,90,100],"title":"p⊥ᵂ±","format":"d","labelExpr":"datum.value==1||datum.value==10||datum.value==100?datum.label:''","labelPadding":3,"titlePadding":2,"tickSize":{"condition":{"test":"datum.value==1||datum.value==10||datum.value==100","value":7},"value":4}}},
    "y":{"datum":1,"type":"quantitative","scale":{"domain":[0.8,1.2],"nice":false,"zero":false},"axis":{"values":[0.8,0.9,1.0,1.1,1.2],"format":".1f","title":"Ratio to Py8","tickSize":6,"labelPadding":8,"titlePadding":12,"labelOffset":{"condition":[{"test":"datum.value<0.85","value":0},{"test":"datum.value>1.15","value":3}],"value":0}}}}},
  {"data":{"values":[{"t":"μF, μR variations uncorrelated"}]},
   "mark":{"type":"text","align":"left","baseline":"alphabetic","fontSize":14,"fontWeight":"bold","color":"#111111"},
   "encoding":{"x":{"datum":7.97,"type":"quantitative"},"y":{"datum":0.83,"type":"quantitative"},"text":{"field":"t"}}}
 ]
}
]
}
